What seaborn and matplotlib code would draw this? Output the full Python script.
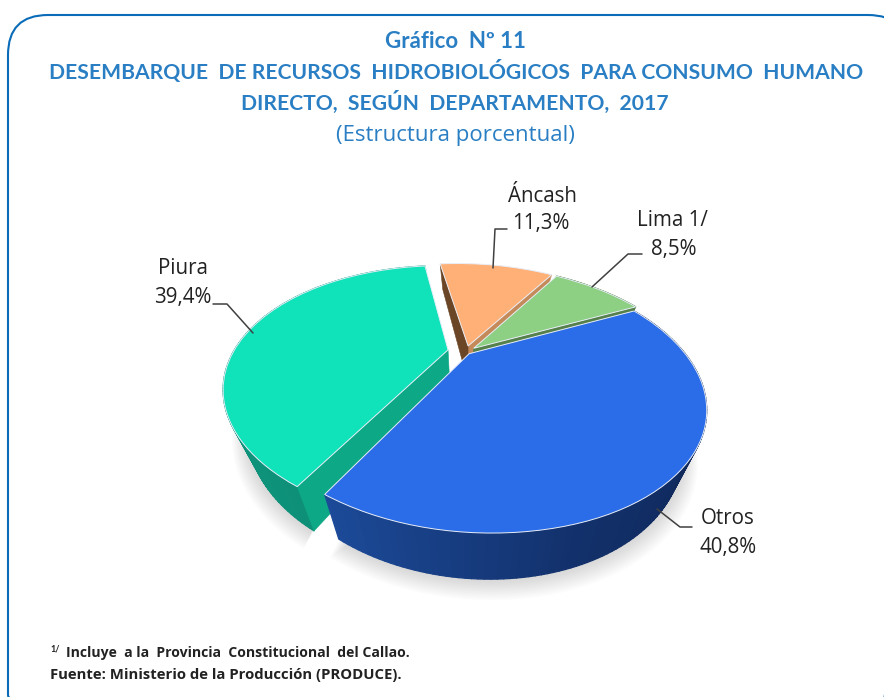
import numpy as np
import matplotlib
matplotlib.use("Agg")
import matplotlib.pyplot as plt
import seaborn as sns
from matplotlib.collections import PolyCollection
from matplotlib.patches import FancyBboxPatch, Polygon
from matplotlib.transforms import Transform

# data
departamentos = ["Otros", "Piura", "Áncash", "Lima 1/"]
porcentajes = [40.8, 39.4, 11.3, 8.5]
etiquetas = ["40,8%", "39,4%", "11,3%", "8,5%"]
separacion = [0.02, 0.085, 0.055, 0.05]
colores = ["#2b6de8", "#10e2ba", "#ffb077", "#8dd083"]

titulo = "DESEMBARQUE  DE RECURSOS  HIDROBIOLÓGICOS  PARA CONSUMO  HUMANO"
azul_titulo = "#2a7fc4"

# view of the pie plane, in pixels
OX, OY = 466, 352
A, B, K, S = 215, 115, 0.35, -14
FONDO_X = 0.9


def proyectar(x, y):
    w = 1 / (1 + K * y)
    return OX + (A * x + S * y) * w, OY - B * y * w


def abajo(x, y):
    px, py = proyectar(x, y)
    return OX + (px - OX) * FONDO_X, py + 46 - 10 * (y + 1)


class Plano(Transform):
    input_dims = 2
    output_dims = 2
    is_separable = False

    def transform_non_affine(self, values):
        values = np.asarray(values)
        px, py = proyectar(values[:, 0], values[:, 1])
        return np.column_stack([px, py])


def arco(wedge, n=120):
    th = np.radians(np.linspace(wedge.theta1, wedge.theta2, n))
    return wedge.center[0] + np.cos(th), wedge.center[1] + np.sin(th)


def pared_arco(ax, wedge, tonos, z):
    x, y = arco(wedge)
    tx, ty = proyectar(x, y)
    bx, by = abajo(x, y)
    quads = [[(tx[i], ty[i]), (tx[i + 1], ty[i + 1]), (bx[i + 1], by[i + 1]), (bx[i], by[i])]
             for i in range(len(x) - 1)]
    cols = sns.blend_palette(tonos, len(quads))
    ax.add_collection(PolyCollection(quads, facecolors=cols, edgecolors=cols, linewidths=0.9, zorder=z))


def pared_radial(ax, wedge, angulo, color, z):
    th = np.radians(angulo)
    x = np.array([wedge.center[0], wedge.center[0] + np.cos(th)])
    y = np.array([wedge.center[1], wedge.center[1] + np.sin(th)])
    tx, ty = proyectar(x, y)
    bx, by = abajo(x, y)
    pts = [(tx[0], ty[0]), (tx[1], ty[1]), (bx[1], by[1]), (bx[0], by[0])]
    ax.add_patch(Polygon(pts, closed=True, facecolor=color, edgecolor=color, lw=0.4, zorder=z))


sns.set_theme(style="white")
plt.rcParams["font.family"] = ["Lato", "DejaVu Sans"]

fig = plt.figure(figsize=(8.84, 6.97), dpi=100, facecolor="white")
ax = fig.add_axes([0, 0, 1, 1])

wedges, _ = ax.pie(porcentajes, explode=separacion, colors=colores, startangle=25, counterclock=False,
                   wedgeprops={"edgecolor": "#e8eef8", "linewidth": 0.7})
ax.set_aspect("auto")
ax.set_xlim(0, 884)
ax.set_ylim(697, 0)
ax.axis("off")

plano = Plano() + ax.transData
for w, z in zip(wedges, [9, 7, 3, 5]):
    w.set_transform(plano)
    w.set_zorder(z)
    w.set_clip_on(False)

otros, piura, ancash, lima = wedges

# soft shadow below the front walls
for i in range(10, 0, -1):
    for w in (otros, piura):
        x, y = arco(w)
        bx, by = abajo(x, y)
        f = 1 + i * 0.007
        ax.add_patch(Polygon(np.column_stack([OX + (bx - OX) * f, OY + (by - OY) * f + i * 0.5]),
                             closed=True, facecolor="#808080", edgecolor="none", alpha=0.03, zorder=0.5))

# side walls
pared_radial(ax, ancash, ancash.theta1, "#c58a5a", 2)
pared_radial(ax, ancash, ancash.theta2, "#6a4526", 2)
pared_arco(ax, lima, ["#55804a", "#55804a"], 4)
pared_radial(ax, lima, lima.theta1, "#55804a", 4)
pared_arco(ax, piura, ["#10a88a", "#0e9078"], 6)
pared_radial(ax, piura, piura.theta2, "#0da885", 6)
pared_arco(ax, otros, ["#1c4a98", "#12306a", "#0f2758", "#0f2758"], 8)

# leaders
lineas = [([692, 680, 657], [527, 527, 509]),
          ([213, 227, 253], [304, 304, 333]),
          ([507, 495, 493], [229, 229, 268]),
          ([642, 628, 592], [254, 254, 287])]
for lx, ly in lineas:
    ax.plot(lx, ly, color="#404040", lw=1.1, zorder=10)

# labels
pos_nombre = [(728, 519), (183, 268), (542, 196), (672, 220)]
pos_valor = [(728, 547), (183, 297), (541, 224), (674, 250)]
for nombre, valor, pn, pv in zip(departamentos, etiquetas, pos_nombre, pos_valor):
    ax.text(*pn, nombre, ha="center", va="center", fontsize=14.8, family="Open Sans", color="#222222", zorder=11)
    ax.text(*pv, valor, ha="center", va="center", fontsize=14.8, family="Open Sans", color="#222222", zorder=11)

# titles
ax.text(455, 41, "Gráfico  Nº 11", ha="center", va="center", fontsize=16, fontweight="bold", color=azul_titulo)
ax.text(456, 71, titulo, ha="center", va="center", fontsize=15.2, fontweight="bold", color=azul_titulo)
ax.text(455, 102, "DIRECTO,  SEGÚN  DEPARTAMENTO,  2017", ha="center", va="center", fontsize=15.2,
        fontweight="bold", color=azul_titulo)
ax.text(455, 135, "(Estructura porcentual)", ha="center", va="center", fontsize=16, family="Open Sans",
        color=azul_titulo)

# footnotes
ax.text(50, 649, "1/", ha="left", va="center", fontsize=6.5, fontweight="bold", color="#222222")
ax.text(66, 653, "Incluye  a la  Provincia  Constitucional  del Callao.", ha="left", va="center", fontsize=10.1,
        family="Open Sans", fontweight="bold", color="#222222")
ax.text(50, 675, "Fuente: Ministerio de la Producción (PRODUCE).", ha="left", va="center", fontsize=10.7,
        family="Open Sans", fontweight="bold", color="#222222")

# rounded frame, runs off the picture on the right and bottom
ax.add_patch(FancyBboxPatch((48, 55), 820, 640, boxstyle="round,pad=40,rounding_size=40", facecolor="none",
                            edgecolor="#0a6cb8", lw=1.5, zorder=12))

fig.savefig("out.png", dpi=100, facecolor="white")
